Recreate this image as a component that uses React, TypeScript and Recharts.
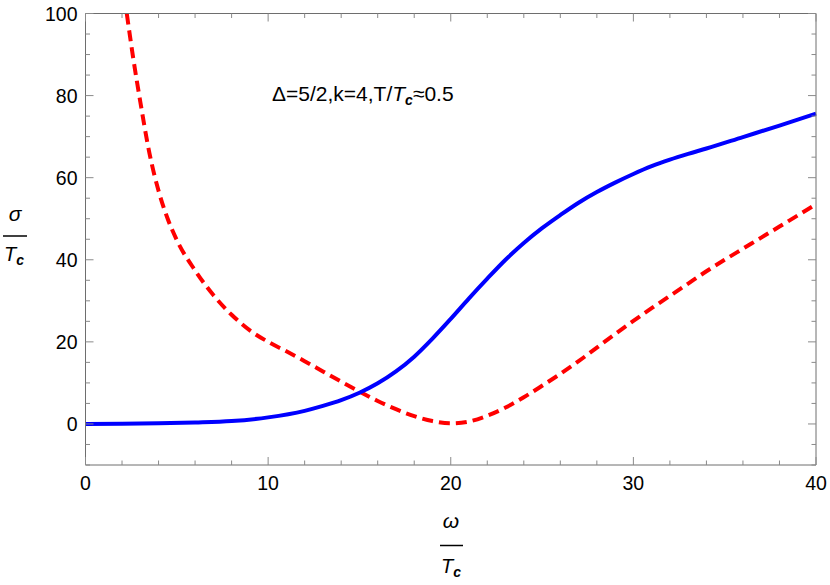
import React from "react";
import { Line, LineChart, XAxis, YAxis } from "recharts";

// conductivity curves (x = omega/Tc, y = sigma/Tc)
const blueX = [0, 2, 4, 6, 8, 10, 12, 13, 14, 15, 16, 17, 18, 19, 20, 21, 22, 23, 24, 25, 26, 27, 28, 29, 30, 31, 32, 33, 34, 36, 38, 40];
const blueY = [0, 0.05, 0.15, 0.35, 0.7, 1.6, 3.2, 4.4, 5.8, 7.6, 9.9, 12.8, 16.4, 20.8, 25.6, 30.6, 35.4, 40.0, 44.1, 47.7, 50.9, 53.9, 56.5, 58.8, 60.9, 62.8, 64.4, 65.8, 67.1, 69.9, 72.7, 75.6];

const redX = [2.26, 2.6, 3, 3.5, 4, 4.5, 5, 6, 7, 8, 9, 10, 11, 12, 13, 14, 15, 16, 17, 18, 19, 20, 21, 22, 23, 24, 25, 26, 27, 28, 29, 30, 31, 32, 33, 34, 35, 36, 37, 38, 39, 40];
const redY = [100, 89.5, 78.5, 66.0, 56.8, 50.0, 44.8, 37.4, 31.4, 26.6, 22.8, 20.0, 17.7, 15.3, 12.8, 10.3, 7.9, 5.6, 3.6, 1.9, 0.7, 0.15, 0.6, 2.0, 4.0, 6.5, 9.3, 12.2, 15.3, 18.6, 21.9, 25.1, 28.2, 31.2, 34.2, 37.2, 40.0, 42.7, 45.4, 48.1, 50.8, 53.5];

const xTicks = [0, 2, 4, 6, 8, 10, 12, 14, 16, 18, 20, 22, 24, 26, 28, 30, 32, 34, 36, 38, 40];
const yTicks = [-10, -5, 0, 5, 10, 15, 20, 25, 30, 35, 40, 45, 50, 55, 60, 65, 70, 75, 80, 85, 90, 95, 100];

const blueData = blueX.map((x, i) => ({ x, y: blueY[i] }));
const redData = redX.map((x, i) => ({ x, y: redY[i] }));

const FONT = "'Liberation Sans', Arial, sans-serif";
const FRAME = "#6e6e6e";
const TICK = "#8a8a8a";
const MAJOR = 8;
const MINOR = 4.5;
const MARGIN = { top: 12.5, right: 13, bottom: 119, left: 84.5 };
const PLOT_TOP = MARGIN.top + 1; // top frame edge (top axis is 1px tall)

const xMajor = (v: number) => v % 10 === 0;
const yMajor = (v: number) => v % 20 === 0 && v >= 0;

// bottom axis tick also mirrors its mark onto the top frame
function BottomTick(props: any) {
  const { x, y, payload } = props;
  const len = xMajor(payload.value) ? MAJOR : MINOR;
  return (
    <g>
      <line x1={x} x2={x} y1={y} y2={y - len} stroke={TICK} strokeWidth={1} />
      <line x1={x} x2={x} y1={PLOT_TOP} y2={PLOT_TOP + len} stroke={TICK} strokeWidth={1} />
      {xMajor(payload.value) && (
        <text x={x} y={y + 25} textAnchor="middle" fontSize={19.5} fontFamily={FONT} fill="#000">
          {payload.value}
        </text>
      )}
    </g>
  );
}

function LeftTick(props: any) {
  const { x, y, payload } = props;
  const major = yMajor(payload.value);
  return (
    <g>
      <line x1={x} x2={x + (major ? MAJOR : MINOR)} y1={y} y2={y} stroke={TICK} strokeWidth={1} />
      {major && (
        <text x={x - 8} y={y + 7} textAnchor="end" fontSize={19.5} fontFamily={FONT} fill="#000">
          {payload.value}
        </text>
      )}
    </g>
  );
}

function RightTick(props: any) {
  const { x, y, payload } = props;
  const major = yMajor(payload.value);
  return <line x1={x} x2={x - (major ? MAJOR : MINOR)} y1={y} y2={y} stroke={TICK} strokeWidth={1} />;
}

function Tc({ x, y }: { x: number; y: number }) {
  return (
    <text x={x} y={y} fontSize={20} fontFamily={FONT} fill="#000">
      <tspan fontStyle="italic">T</tspan>
      <tspan fontStyle="italic" fontWeight="bold" fontSize={14} dy={4}>c</tspan>
    </text>
  );
}

export default function App() {
  const xCommon = { dataKey: "x", type: "number" as const, domain: [0, 40], ticks: xTicks, interval: 0 as const, height: 1, tickSize: 0, tickMargin: 0, tickLine: false, axisLine: { stroke: FRAME } };
  const yCommon = { type: "number" as const, domain: [-10, 100], allowDataOverflow: true, ticks: yTicks, interval: 0 as const, width: 1, tickSize: 0, tickMargin: 0, tickLine: false, axisLine: { stroke: FRAME } };
  return (
    <div style={{ position: "absolute", left: 0, top: 0, width: 830, height: 585, background: "#fff" }}>
      <LineChart width={830} height={585} margin={MARGIN}>
        <XAxis {...xCommon} xAxisId="b" tick={<BottomTick />} />
        <XAxis {...xCommon} xAxisId="t" orientation="top" tick={false} />
        <YAxis {...yCommon} yAxisId="l" tick={<LeftTick />} />
        <YAxis {...yCommon} yAxisId="r" orientation="right" tick={<RightTick />} />
        <Line
          xAxisId="b"
          yAxisId="l"
          data={redData}
          dataKey="y"
          type="monotone"
          stroke="#ff0000"
          strokeWidth={4}
          strokeDasharray="11 6"
          dot={false}
          activeDot={false}
          isAnimationActive={false}
        />
        <Line
          xAxisId="b"
          yAxisId="l"
          data={blueData}
          dataKey="y"
          type="monotone"
          stroke="#0000ff"
          strokeWidth={4}
          dot={false}
          activeDot={false}
          isAnimationActive={false}
        />
      </LineChart>
      <svg width={830} height={585} style={{ position: "absolute", left: 0, top: 0, pointerEvents: "none" }}>
        <text x={272} y={101} fontSize={21} fontFamily={FONT} fill="#000">
          Δ=5/2,k=4,T/
          <tspan fontStyle="italic">T</tspan>
          <tspan fontStyle="italic" fontWeight="bold" fontSize={14} dy={4}>c</tspan>
          <tspan dy={-4}>≈0.5</tspan>
        </text>
        <text x={15} y={221} textAnchor="middle" fontSize={21} fontStyle="italic" fontFamily={FONT} fill="#000">σ</text>
        <line x1={3} x2={27} y1={236} y2={236} stroke="#000" strokeWidth={1.5} />
        <Tc x={4} y={261} />
        <text x={451} y={528} textAnchor="middle" fontSize={21} fontStyle="italic" fontFamily={FONT} fill="#000">ω</text>
        <line x1={440} x2={463} y1={545.5} y2={545.5} stroke="#000" strokeWidth={1.5} />
        <Tc x={441} y={573} />
      </svg>
    </div>
  );
}
